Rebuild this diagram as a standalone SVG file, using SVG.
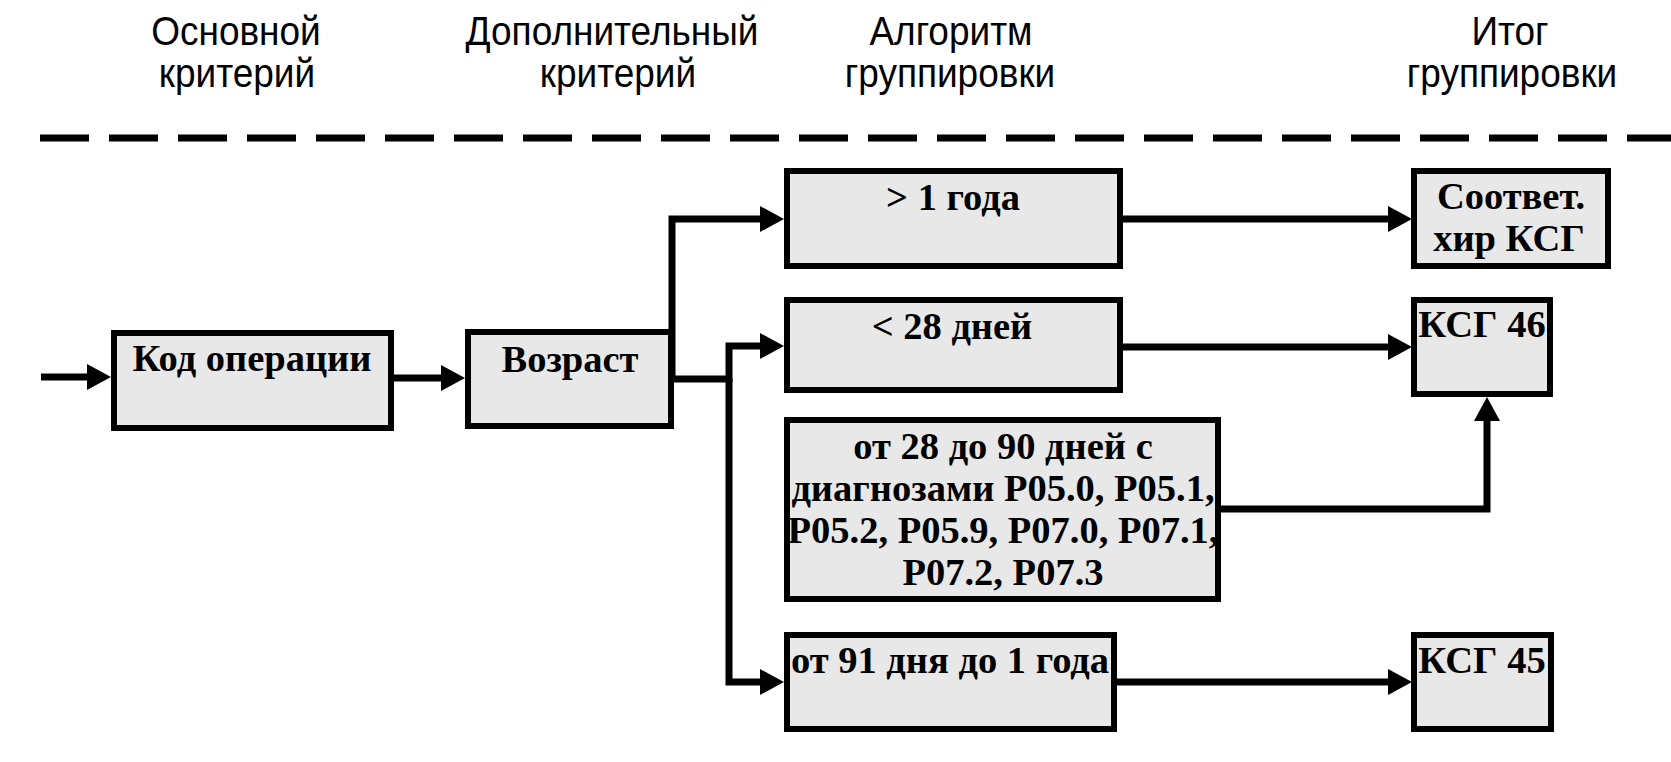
<svg xmlns="http://www.w3.org/2000/svg" width="1671" height="762" viewBox="0 0 1671 762">
<style>
.h{font-family:"Liberation Sans",Arial,sans-serif;font-size:37px;text-anchor:middle;fill:#000}
.t{font-family:"Liberation Serif","Times New Roman",serif;font-weight:bold;font-size:38.5px;text-anchor:middle;fill:#000}
.box{fill:#e8e8e8;stroke:#000;stroke-width:6}
.c{fill:none;stroke:#000;stroke-width:7}
</style>
<defs>
<marker id="ah" viewBox="0 0 24 26" markerWidth="24" markerHeight="26" markerUnits="userSpaceOnUse" refX="0" refY="13" orient="auto">
<path d="M0,0 L24,13 L0,26 Z" fill="#000"/>
</marker>
</defs>
<g id="headers">
<g transform="scale(1,1.1)">
<text class="h" x="236" y="40.9">Основной</text>
<text class="h" x="237" y="79.1">критерий</text>
<text class="h" x="612" y="40.9">Дополнительный</text>
<text class="h" x="618" y="79.1">критерий</text>
<text class="h" x="951" y="40.9">Алгоритм</text>
<text class="h" x="950" y="79.1">группировки</text>
<text class="h" x="1510" y="40.9">Итог</text>
<text class="h" x="1512" y="79.1">группировки</text>
</g>
<line x1="40" y1="138" x2="1671" y2="138" stroke="#000" stroke-width="7" stroke-dasharray="49 20"/>
</g>
<g id="connectors">
<path class="c" d="M41,377 H87" marker-end="url(#ah)"/>
<path class="c" d="M394,378 H441" marker-end="url(#ah)"/>
<path class="c" d="M672,379 V219 H760" marker-end="url(#ah)"/>
<path class="c" d="M674,379 H729 V346 H760" marker-end="url(#ah)"/>
<path class="c" d="M729,379 V682 H760" marker-end="url(#ah)"/>
<path class="c" d="M1120,219 H1388" marker-end="url(#ah)"/>
<path class="c" d="M1120,347 H1388" marker-end="url(#ah)"/>
<path class="c" d="M1221,509 H1487 V421" marker-end="url(#ah)"/>
<path class="c" d="M1117,682 H1388" marker-end="url(#ah)"/>
</g>
<g id="n-kod">
<rect class="box" x="114" y="333" width="277" height="95"/>
<text class="t" x="252" y="371">Код операции</text>
</g>
<g id="n-vozrast">
<rect class="box" x="468" y="332" width="203" height="94"/>
<text class="t" x="570" y="372">Возраст</text>
</g>
<g id="n-gt1">
<rect class="box" x="787" y="171" width="333" height="95"/>
<text class="t" x="953" y="210">&gt; 1 года</text>
</g>
<g id="n-lt28">
<rect class="box" x="787" y="300" width="333" height="90"/>
<text class="t" x="952" y="339">&lt; 28 дней</text>
</g>
<g id="n-28-90">
<rect class="box" x="787" y="420" width="431" height="179"/>
<text class="t" x="1003" y="459">от 28 до 90 дней с</text>
<text class="t" x="1003" y="501">диагнозами P05.0, P05.1,</text>
<text class="t" x="1003" y="543">P05.2, P05.9, P07.0, P07.1,</text>
<text class="t" x="1003" y="585">P07.2, P07.3</text>
</g>
<g id="n-91">
<rect class="box" x="787" y="635" width="327" height="94"/>
<text class="t" x="950" y="673">от 91 дня до 1 года</text>
</g>
<g id="n-sootv">
<rect class="box" x="1414" y="171" width="194" height="95"/>
<text class="t" x="1511" y="209">Соответ.</text>
<text class="t" x="1509" y="251">хир КСГ</text>
</g>
<g id="n-ksg46">
<rect class="box" x="1414" y="300" width="136" height="94"/>
<text class="t" x="1482" y="337">КСГ 46</text>
</g>
<g id="n-ksg45">
<rect class="box" x="1414" y="635" width="137" height="94"/>
<text class="t" x="1482" y="673">КСГ 45</text>
</g>
</svg>
